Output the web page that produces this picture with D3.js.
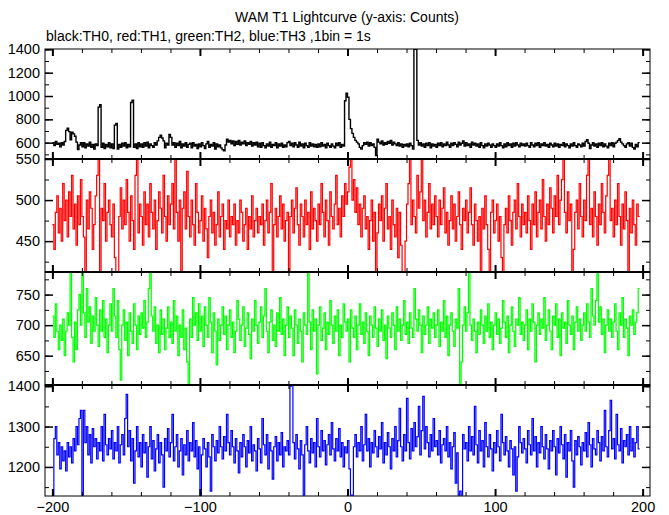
<!DOCTYPE html>
<html><head><meta charset="utf-8">
<script src="https://cdn.jsdelivr.net/npm/d3@7/dist/d3.min.js"></script>
<style>
html,body{margin:0;padding:0;background:#fff;}
text{font-family:"Liberation Sans",Arial,Helvetica,sans-serif;}
</style></head><body>
<svg id="c" width="669" height="515"></svg>
<script>
const titleText = "WAM T1 Lightcurve (y-axis: Counts)";
const subtitleText = "black:TH0, red:TH1, green:TH2, blue:TH3 ,1bin = 1s";
const timeStart = -200; // first bin start, 1 bin = 1 s
const xTickMinor = d3.range(-200, 201, 20);
const xTickMajor = [-200, -100, 0, 100, 200];
const xTickLabels = ["\u2212200", "\u2212100", "0", "100", "200"];

const th0 = [
600,575,610,585,595,565,600,580,610,705,725,695,625,690,675,655,605,540,580,600,
565,600,555,590,570,605,560,585,545,590,575,905,925,560,595,550,585,565,600,555,
590,550,750,765,545,585,560,595,570,600,555,585,565,945,965,560,590,550,600,565,
590,560,600,570,605,555,590,575,560,600,580,615,645,665,640,615,555,595,580,670,
645,580,600,560,595,575,610,555,590,570,600,560,585,595,555,600,570,585,550,590,
565,600,575,550,590,610,560,585,570,600,545,590,565,580,555,540,530,580,630,605,
620,590,615,575,610,585,620,580,605,590,615,575,600,585,610,570,600,580,605,565,
595,560,600,575,555,590,570,605,560,585,575,600,555,590,570,595,560,580,565,600,
610,575,595,565,600,580,560,605,570,590,555,595,575,560,600,570,590,565,585,560,
590,565,600,570,585,555,595,575,560,590,570,555,595,575,600,560,585,570,960,1025,
990,800,720,680,645,620,605,590,560,545,575,600,585,605,570,600,575,590,560,490,
630,605,590,615,580,600,585,610,595,620,580,605,590,575,600,570,590,560,585,570,
590,565,595,575,545,1400,1400,620,580,600,570,590,560,595,575,600,555,590,570,585,
560,595,575,600,565,590,575,605,580,560,595,575,600,585,565,605,580,595,615,570,
600,575,590,560,605,580,595,570,590,560,600,575,555,590,570,595,580,560,590,575,
560,590,570,600,575,555,590,565,600,575,590,560,595,570,600,580,565,595,575,590,
570,595,575,560,600,580,565,595,575,600,560,590,575,600,570,585,560,595,580,565,
595,570,590,560,585,575,600,565,590,575,555,590,570,600,575,560,590,580,565,595,
570,610,625,595,550,580,600,570,590,560,595,575,600,565,590,570,555,595,575,600,
565,595,605,620,635,605,590,575,560,590,600,570,595,560,545,585,565,600];

const th1 = [
470,440,485,505,460,490,450,520,475,500,455,510,480,530,465,495,445,505,470,525,
480,455,410,500,465,510,490,440,470,505,530,560,405,490,475,520,450,485,500,470,
455,495,430,405,410,480,515,465,500,470,525,485,450,505,475,440,530,555,460,495,
480,445,510,470,495,455,520,485,465,500,440,475,510,490,460,530,480,450,505,470,
495,520,465,560,485,450,500,405,490,510,465,535,480,455,500,470,445,520,485,460,
475,505,450,490,465,430,480,500,460,485,445,470,510,455,480,495,440,475,465,500,
455,480,470,495,445,475,460,500,485,450,470,490,440,480,465,505,455,475,490,460,
480,470,495,445,475,500,460,485,520,408,470,490,455,480,505,465,495,450,475,485,
405,480,500,460,490,515,470,445,495,480,455,500,470,485,440,510,465,490,475,450,
495,470,520,485,455,500,475,445,510,480,465,495,530,470,490,455,505,480,520,495,
510,540,560,500,525,485,515,470,495,455,490,505,465,480,440,475,500,450,485,410,
460,495,475,505,450,490,520,465,480,440,500,470,455,490,430,485,445,405,410,450,
495,520,555,470,500,480,460,530,490,510,555,475,500,455,485,520,465,495,470,505,
480,455,500,470,490,515,460,485,445,475,505,465,495,450,480,510,470,440,490,475,
500,460,485,515,470,445,495,475,450,480,408,490,465,505,470,440,410,485,500,460,
475,495,450,480,430,408,470,490,460,505,475,445,485,500,465,520,480,455,495,470,
485,460,505,475,440,495,470,510,455,485,500,465,525,480,450,495,470,515,490,460,
505,480,530,470,500,525,555,485,460,510,475,495,405,440,485,500,465,520,480,455,
500,475,530,555,470,490,455,510,480,445,495,470,520,485,460,505,530,555,475,490,
455,500,470,520,480,445,495,465,510,475,408,490,460,500,470,445,495,480];

const th2 = [
715,680,735,690,660,700,675,710,650,690,720,700,790,680,640,705,660,725,750,700,
790,720,680,760,705,730,670,715,690,745,700,665,725,690,740,680,710,655,700,735,
690,760,715,680,740,660,610,700,725,675,705,650,720,690,670,735,700,660,715,685,
720,695,740,680,705,760,790,715,690,730,670,700,655,725,685,710,660,695,730,680,
705,670,740,690,715,650,700,680,725,660,695,640,605,710,680,745,700,720,675,735,
690,715,665,730,700,680,745,705,655,720,690,635,710,675,700,730,685,715,660,700,
725,680,705,655,690,740,710,675,700,730,665,695,720,685,645,710,690,740,700,670,
705,730,680,715,760,690,655,705,725,675,700,665,720,690,745,685,710,650,700,730,
680,715,695,650,725,700,670,710,690,640,720,700,685,785,705,660,725,690,710,620,
700,730,675,695,720,660,705,685,740,700,670,715,690,725,650,700,680,735,705,690,
710,640,725,695,680,715,660,700,735,685,705,670,720,690,650,715,700,680,730,695,
665,710,690,725,675,700,645,715,695,680,720,700,660,730,690,710,675,700,740,685,
705,670,720,695,680,760,710,690,725,700,655,715,685,700,730,670,710,695,720,680,
700,725,665,705,690,740,680,715,650,700,720,690,665,710,695,760,605,640,700,730,
690,720,790,700,675,710,690,655,705,685,725,700,670,715,690,735,680,705,660,700,
720,685,710,670,695,740,705,680,715,655,700,730,690,665,710,700,745,685,705,675,
700,725,660,710,690,735,705,640,700,720,685,710,695,745,675,700,725,690,660,715,
700,735,680,710,650,720,695,705,670,740,700,685,715,660,705,730,690,710,675,700,
720,690,735,705,680,760,715,700,740,790,705,730,685,710,655,700,725,690,710,680,
705,735,690,660,720,700,745,680,710,695,650,715,700,725,685,705,720,760];

const th3 = [
1130,1270,1300,1230,1260,1195,1250,1215,1240,1190,1260,1225,1250,1210,1270,1240,1300,1255,1320,1340,
1130,1340,1260,1300,1230,1280,1210,1295,1250,1270,1220,1260,1240,1300,1215,1330,1255,1230,1270,1245,
1290,1220,1260,1240,1300,1210,1255,1280,1230,1320,1380,1250,1290,1215,1270,1160,1240,1300,1225,1260,
1200,1280,1235,1260,1175,1250,1300,1220,1265,1190,1245,1280,1210,1260,1230,1150,1270,1240,1295,1225,
1260,1330,1215,1250,1280,1200,1240,1270,1180,1255,1230,1290,1215,1260,1240,1310,1225,1265,1195,1250,
1130,1230,1270,1245,1200,1260,1225,1140,1280,1250,1215,1265,1235,1300,1250,1220,1275,1240,1330,1260,
1230,1290,1250,1210,1270,1240,1185,1260,1225,1280,1250,1200,1265,1235,1300,1215,1255,1240,1190,1270,
1245,1210,1320,1255,1230,1280,1195,1260,1240,1170,1250,1275,1215,1260,1230,1285,1200,1250,1240,1265,
1230,1400,1405,1260,1220,1280,1245,1195,1265,1230,1130,1255,1300,1240,1210,1270,1235,1260,1200,1320,
1250,1225,1290,1240,1265,1205,1255,1280,1230,1310,1245,1215,1270,1240,1295,1225,1260,1200,1250,1235,
1265,1195,1130,1130,1250,1280,1225,1260,1240,1300,1215,1255,1330,1240,1270,1200,1260,1235,1290,1250,
1225,1275,1245,1310,1210,1260,1230,1285,1250,1195,1270,1240,1300,1225,1265,1345,1250,1215,1280,1240,
1370,1260,1220,1295,1240,1310,1250,1275,1350,1230,1290,1375,1245,1300,1260,1225,1280,1240,1320,1250,
1265,1230,1290,1210,1255,1270,1240,1300,1225,1260,1195,1250,1285,1160,1235,1130,1140,1130,1280,1245,
1260,1215,1300,1240,1275,1230,1350,1255,1210,1290,1240,1265,1200,1310,1250,1225,1280,1245,1190,1260,
1235,1290,1250,1215,1330,1260,1230,1275,1240,1200,1265,1245,1180,1250,1140,1225,1300,1260,1235,1270,
1245,1210,1290,1255,1230,1320,1240,1275,1200,1260,1235,1300,1250,1220,1280,1245,1195,1265,1240,1290,
1250,1180,1270,1235,1300,1255,1220,1280,1175,1260,1240,1290,1215,1150,1265,1230,1275,1250,1205,1260,
1240,1285,1225,1310,1255,1200,1270,1245,1230,1290,1260,1215,1275,1240,1340,1250,1225,1290,1365,1245,
1270,1220,1330,1255,1240,1295,1210,1265,1250,1280,1230,1300,1240,1270,1225,1260,1300,1245];

const panels = [
  {data: th0, color: "#000000", width: 1.4, top: 49,  bottom: 159, domain: [460, 1403],  minor: d3.range(500, 1401, 100), major: [600, 800, 1000, 1200, 1400]},
  {data: th1, color: "#ff0000", width: 1.2, top: 159, bottom: 272, domain: [412.4, 550], minor: d3.range(425, 551, 25),  major: [450, 500, 550]},
  {data: th2, color: "#00ff00", width: 1.2, top: 272, bottom: 385, domain: [602, 787],   minor: d3.range(625, 787, 25),  major: [650, 700, 750]},
  {data: th3, color: "#0000ff", width: 1.2, top: 385, bottom: 496, domain: [1128, 1403], minor: d3.range(1150, 1401, 50), major: [1200, 1300, 1400]}
];

const left = 45, right = 650;
const svg = d3.select("#c");
const x = d3.scaleLinear().domain([-205, 205]).range([left, right]);

svg.append("text").attr("x", 347).attr("y", 22).attr("text-anchor", "middle")
  .attr("font-size", 14).text(titleText);
svg.append("text").attr("x", 46).attr("y", 41).attr("font-size", 14).text(subtitleText);

const defs = svg.append("defs");

panels.forEach((p, k) => {
  const y = d3.scaleLinear().domain(p.domain).range([p.bottom, p.top]);
  const g = svg.append("g");
  defs.append("clipPath").attr("id", "clip" + k).append("rect")
    .attr("x", left).attr("y", p.top).attr("width", right - left).attr("height", p.bottom - p.top);

  const pts = p.data.map((v, i) => [timeStart + i, v]);
  pts.push([timeStart + p.data.length, p.data[p.data.length - 1]]);
  const line = d3.line().x(d => x(d[0])).y(d => y(d[1])).curve(d3.curveStepAfter);
  g.append("path").datum(pts).attr("d", line).attr("fill", "none")
    .attr("stroke", p.color).attr("stroke-width", p.width).attr("clip-path", `url(#clip${k})`);

  const yl = g.append("g").attr("transform", `translate(${left},0)`)
    .call(d3.axisLeft(y).tickValues(p.minor).tickSize(-4).tickFormat(""));
  yl.select(".domain").remove();
  const ylM = g.append("g").attr("transform", `translate(${left},0)`)
    .call(d3.axisLeft(y).tickValues(p.major).tickSize(-8).tickPadding(5).tickFormat(d3.format("d")));
  ylM.select(".domain").remove();
  ylM.selectAll("line").attr("stroke-width", 1.5);
  ylM.selectAll("text").attr("font-size", 14.5).attr("fill", "#000").attr("font-family", '"Liberation Sans",Arial,sans-serif');

  const yr = g.append("g").attr("transform", `translate(${right},0)`)
    .call(d3.axisRight(y).tickValues(p.minor).tickSize(-4).tickFormat(""));
  yr.select(".domain").remove();
  const yrM = g.append("g").attr("transform", `translate(${right},0)`)
    .call(d3.axisRight(y).tickValues(p.major).tickSize(-8).tickFormat(""));
  yrM.select(".domain").remove();
  yrM.selectAll("line").attr("stroke-width", 1.5);

  [[p.top, d3.axisTop], [p.bottom, d3.axisBottom]].forEach(([yy, ax]) => {
    const a = g.append("g").attr("transform", `translate(0,${yy})`)
      .call(ax(x).tickValues(xTickMinor).tickSize(-4).tickFormat(""));
    a.select(".domain").remove();
    const b = g.append("g").attr("transform", `translate(0,${yy})`)
      .call(ax(x).tickValues(xTickMajor).tickSize(-7).tickFormat(""));
    b.select(".domain").remove();
    b.selectAll("line").attr("stroke-width", 2);
  });

  g.append("rect").attr("x", left).attr("y", p.top).attr("width", right - left)
    .attr("height", p.bottom - p.top).attr("fill", "none").attr("stroke", "#000").attr("stroke-width", 1);
});

[159, 272, 385].forEach(yy => {
  svg.append("line").attr("x1", left).attr("x2", right).attr("y1", yy).attr("y2", yy)
    .attr("stroke", "#000").attr("stroke-width", 2);
});

const xl = svg.append("g").attr("transform", "translate(0,496)")
  .call(d3.axisBottom(x).tickValues(xTickMajor).tickSize(0).tickPadding(6)
    .tickFormat((d, i) => xTickLabels[i]));
xl.select(".domain").remove();
xl.selectAll("text").attr("font-size", 14.5).attr("fill", "#000").attr("font-family", '"Liberation Sans",Arial,sans-serif');
</script>
</body></html>
